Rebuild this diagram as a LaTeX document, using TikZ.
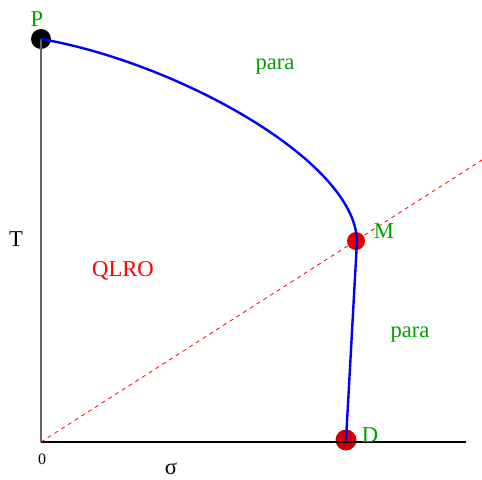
\documentclass[tikz,border=0pt]{standalone}
\usepackage{fontspec}
\setmainfont{Liberation Serif}
\usetikzlibrary{calc, positioning}
\definecolor{lblgreen}{RGB}{0,160,0}
\definecolor{dotred}{RGB}{230,0,0}
\definecolor{dotdark}{RGB}{205,0,0}
\tikzset{
  phase/.style={font=\fontsize{17}{20}\selectfont},
  dot/.style={circle, inner sep=0pt, minimum size=#1},
}
\begin{document}
\begin{tikzpicture}[x=0.75pt, y=-0.75pt]
  \useasboundingbox (0,0) rectangle (482,479);
  % axes
  \coordinate (O) at (41,442);
  \coordinate (Xend) at (466,442);
  \coordinate (Dend) at (482,160);
  \node[dot=20pt*0.75, fill=black] (P) at (41,39) {};
  \node[dot=18pt*0.75, fill=dotred] (M) at (356,241) {};
  \node[dot=21pt*0.75, fill=dotdark] (D) at (346,440) {};
  \draw[gray!80!black, line width=0.8pt] (P.center) -- (O);
  \draw[black, line width=0.8pt] (O) -- (Xend);
  \draw[red, line width=0.6pt, dash pattern=on 3pt off 3pt] (O) -- (Dend);
  % phase boundary
  \draw[blue, line width=1.8pt, line join=round]
    (P.center) .. controls (175,62) and (355,160) .. (357,241) -- (D.center);
  % labels
  \node[phase, lblgreen] (Plbl) at (37,19) {P};
  \node[phase, lblgreen] (Mlbl) at (384,231) {M};
  \node[phase, lblgreen] (Dlbl) at (370,435) {D};
  \node[phase, lblgreen] (para1) at (275,67) {para};
  \node[phase, lblgreen] (para2) at (410,335) {para};
  \node[phase, red] (qlro) at (123,271) {QLRO};
  \node[phase] (Tlbl) at (16,239) {T};
  \node[font=\fontsize{12}{14}\selectfont] (zero) at (42,459) {0};
  \node[phase] (sigma) at (171,469) {σ};
\end{tikzpicture}
\end{document}
